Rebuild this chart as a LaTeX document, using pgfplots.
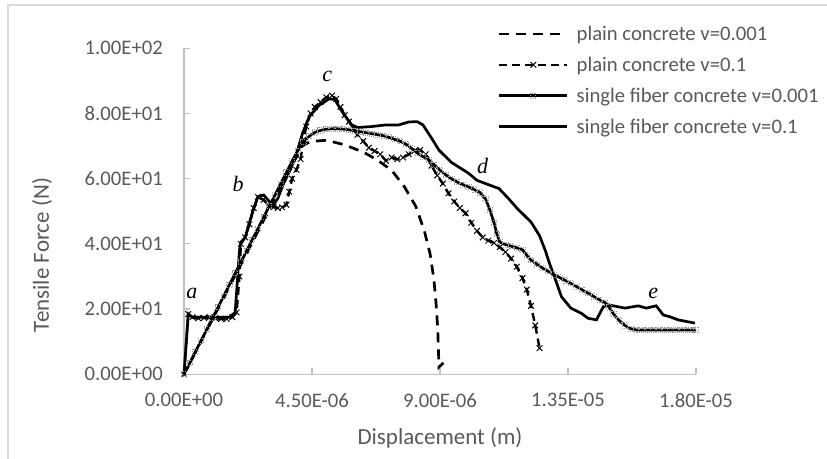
\documentclass[border=0pt]{standalone}
\usepackage{fontspec}
\setmainfont{Carlito}
\newfontfamily\timesf{Liberation Serif}
\usepackage{pgfplots}
\pgfplotsset{compat=1.18}
\definecolor{txt}{HTML}{595959}
\definecolor{axl}{HTML}{BFBFBF}
\definecolor{brd}{HTML}{D9D9D9}
\begin{document}
\begin{tikzpicture}[x=1pt,y=1pt]
\useasboundingbox (0,0) rectangle (827,458);
\draw[brd, line width=1.2pt] (8,-5) -- (8,453) -- (835,453);
\begin{axis}[
  at={(184pt,83.7pt)}, anchor=south west,
  scale only axis, width=512pt, height=326pt,
  xmin=0, xmax=18, ymin=0, ymax=100,
  axis x line*=bottom, axis y line*=left,
  axis line style={-, axl, line width=1.2pt},
  xtick={0,4.5,9,13.5,18},
  xticklabels={0.00E+00,4.50E-06,9.00E-06,1.35E-05,1.80E-05},
  ytick={0,20,40,60,80,100},
  yticklabels={0.00E+00,2.00E+01,4.00E+01,6.00E+01,8.00E+01,1.00E+02},
  tick align=inside, major tick length=6pt,
  tick style={axl, line width=1.2pt},
  ticklabel style={font=\fontsize{20.7}{24}\selectfont, text=txt, inner sep=0pt},
  yticklabel style={xshift=-21pt},
  xticklabel style={yshift=-19pt},
  xlabel={Displacement (m)}, ylabel={Tensile Force (N)},
  label style={font=\fontsize{23}{27}\selectfont, text=txt},
  xlabel style={at={(axis description cs:0.5,-0.195)}, anchor=center},
  ylabel style={at={(axis description cs:-0.277,0.366)}, anchor=center},
  clip=false,
  legend cell align=left,
  legend image code/.code={\draw[mark repeat=2,mark phase=2,#1] plot coordinates {(0pt,0pt) (34pt,0pt) (68pt,0pt)};},
  legend style={draw=none, fill=none, at={(axis description cs:0.607,1.075)}, anchor=north west,
    font=\fontsize{20.7}{24}\selectfont, text=txt, row sep=15pt,
    nodes={inner sep=0pt},
    /tikz/every odd column/.append style={column sep=8pt}},
]
% plain concrete v=0.001
\addplot[black, line width=2.7pt, dash pattern=on 10pt off 7pt, no marks] coordinates {
(0,0) (4.15,70) (4.35,71) (4.6,71.5) (5.0,71.8) (5.6,70.5) (6.3,68.2) (6.8,65.7) (7.3,62.6)
(7.75,57.5) (8.15,51.5) (8.45,44) (8.65,37) (8.78,29.5) (8.86,22) (8.92,14) (8.95,6) (8.96,2.2) (9.12,3.5)
};
\addlegendentry{plain concrete v=0.001}
% plain concrete v=0.1
\addplot[black, line width=2.4pt, dash pattern=on 8pt off 5pt, mark=x, mark size=4pt,
  mark options={solid, line width=1pt}] coordinates {
(0,0) (0.15,18.5) (0.3,17.5) (0.5,17.2) (0.7,17.3) (0.9,17.5) (1.1,17.2) (1.3,17.0) (1.5,17.0)
(1.7,17.5) (1.85,19) (1.95,30) (2.0,40) (2.15,42) (2.3,46) (2.45,51) (2.6,54.4) (2.8,53.5)
(3.0,51.5) (3.15,51.3) (3.3,51) (3.45,51.2) (3.6,52) (3.7,56) (3.8,60) (3.95,62.7) (4.1,66)
(4.2,72) (4.3,76) (4.45,80) (4.6,82) (4.8,83.5) (5.0,85) (5.2,85.5) (5.35,84.5) (5.5,82)
(5.65,79.5) (5.8,77.5) (5.95,75.5) (6.1,73.5) (6.3,71.5) (6.5,69.5) (6.7,68.5) (6.9,67.5)
(7.1,65.5) (7.3,66.5) (7.5,66) (7.7,66.5) (7.9,67.5) (8.1,68.5) (8.3,68.8) (8.5,67.5)
(8.7,64) (8.9,61) (9.1,58.5) (9.3,55.5) (9.5,53) (9.7,51) (9.9,49.4) (10.1,46.5) (10.3,44)
(10.5,42) (10.7,41) (10.9,40.3) (11.1,39) (11.3,37.5) (11.5,35.5) (11.7,33) (11.9,29.5)
(12.05,26) (12.2,21) (12.35,15) (12.5,8)
};
\addlegendentry{plain concrete v=0.1}
% single fiber concrete v=0.001
\addplot[black, line width=2.7pt, mark=square, mark size=2.6pt,
  mark options={solid, draw=black!40, line width=0.9pt, densely dotted}] coordinates {
(0,0) (0.2,3.4) (0.4,6.9) (0.6,10.3) (0.8,13.8) (1.0,17.2) (1.2,20.6) (1.4,24.1) (1.6,27.5)
(1.8,31) (2.0,34.4) (2.2,37.8) (2.4,41.3) (2.6,44.7) (2.8,48.2) (3.0,51.6) (3.2,55) (3.4,58.5)
(3.6,61.9) (3.8,65.4) (4.0,68.6) (4.2,71.2) (4.4,73) (4.6,74.2) (4.8,74.8) (5.0,75.2) (5.2,75.3)
(5.4,75.3) (5.6,75.2) (5.8,75) (6.0,74.7) (6.2,74.4) (6.4,74.1) (6.6,73.8) (6.8,73.5) (7.0,73.2)
(7.2,72.7) (7.4,72.1) (7.6,71.5) (7.8,70.6) (8.0,69.3) (8.2,67.9) (8.4,66.8) (8.6,65.8)
(8.8,64.2) (9.0,62.6) (9.2,61.2) (9.4,60) (9.6,59) (9.8,58.2) (10.0,57.5) (10.2,56.7)
(10.4,55.8) (10.6,53.8) (10.75,50.5) (10.9,46.5) (11.0,43) (11.1,40.6) (11.3,39.8) (11.5,39.3)
(11.7,38.8) (11.9,38.2) (12.05,36.5) (12.2,35) (12.4,33.8) (12.6,32.6) (12.8,31.6) (13.0,30.6)
(13.2,29.7) (13.4,28.8) (13.6,27.9) (13.8,26.9) (14.0,25.9) (14.2,24.9) (14.4,23.9) (14.6,22.9)
(14.8,22) (14.95,20.5) (15.1,18.5) (15.3,16.5) (15.5,15) (15.7,14) (15.9,13.6) (16.1,13.6)
(16.3,13.6) (16.5,13.6) (16.7,13.6) (16.9,13.6) (17.1,13.6) (17.3,13.6) (17.5,13.6) (17.7,13.6)
(17.9,13.6) (18.0,13.6)
};
\addlegendentry{single fiber concrete v=0.001}
% single fiber concrete v=0.1
\addplot[black, line width=2.7pt, no marks] coordinates {
(0,0) (0.15,18.5) (0.3,17.5) (1.0,17.5) (1.6,17.5) (1.8,19) (1.95,38) (2.0,40.5) (2.15,42)
(2.4,49.5) (2.6,54.5) (2.8,55) (3.0,53) (3.15,52) (3.3,54) (3.5,58.5) (3.75,63) (3.95,67.5)
(4.17,74) (4.4,79) (4.75,82.5) (5.1,84.5) (5.3,84.3) (5.6,80) (5.9,76.5) (6.1,75.7) (6.6,76)
(7.1,76.5) (7.55,76.5) (7.9,77.4) (8.2,77.5) (8.4,76.5) (8.7,72.5) (8.96,68.8) (9.4,65)
(10.0,61.7) (10.3,59.5) (10.6,58.5) (11.07,57) (11.4,54) (11.7,51) (12.2,46.7) (12.5,42.5)
(12.7,38) (12.85,34) (13.06,29) (13.27,23.8) (13.6,20.3) (13.97,18.7) (14.2,17.2) (14.5,16.7)
(14.74,20.7) (14.92,21.3) (15.5,20.3) (15.97,21) (16.25,20.3) (16.6,21) (16.85,18.2) (17.1,17.6)
(17.37,16.7) (17.96,15.7)
};
\addlegendentry{single fiber concrete v=0.1}
\node[font=\timesf\itshape\fontsize{22}{26}\selectfont] at (axis cs:0.28,24.9) {a};
\node[font=\timesf\itshape\fontsize{22}{26}\selectfont] at (axis cs:1.9,58.5) {b};
\node[font=\timesf\itshape\fontsize{22}{26}\selectfont] at (axis cs:5.04,91.5) {c};
\node[font=\timesf\itshape\fontsize{22}{26}\selectfont] at (axis cs:10.5,63.8) {d};
\node[font=\timesf\itshape\fontsize{22}{26}\selectfont] at (axis cs:16.5,24.8) {e};
\end{axis}
\end{tikzpicture}
\end{document}
